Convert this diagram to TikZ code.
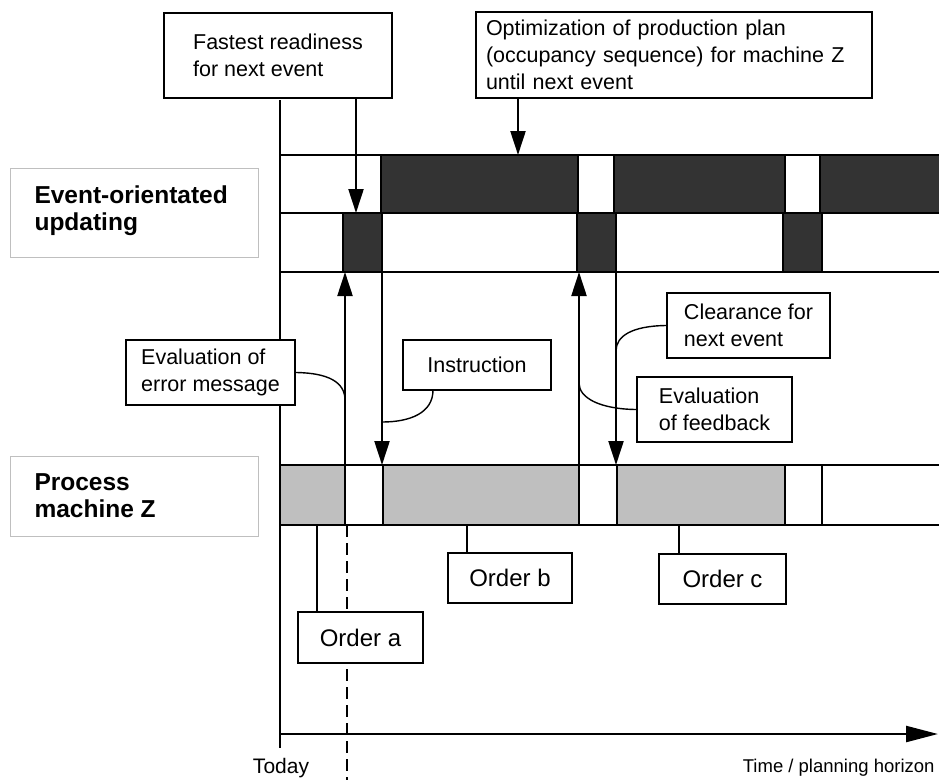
\documentclass[tikz,border=0pt]{standalone}
\usepackage{fontspec}
\setmainfont{Liberation Sans}
\usetikzlibrary{arrows.meta}
\begin{document}
\begin{tikzpicture}[x=1pt,y=-1pt,
  rowline/.style={line width=2.6pt},
  divline/.style={line width=2.4pt},
  box/.style={draw, line width=2.2pt, fill=white, inner sep=0pt, align=left,
    font=\fontsize{21.5}{27}\selectfont},
  topbox/.style={box, inner xsep=10pt},
  orderbox/.style={box, align=center, font=\fontsize{24}{28}\selectfont},
  rowlabel/.style={anchor=west, align=left, font=\bfseries\fontsize{24.5}{27}\selectfont},
  labelframe/.style={draw=black!25, line width=0.6pt},
  lead/.style={line width=1.4pt},
  sig/.style={line width=2.2pt, -{Triangle[length=24pt,width=15pt]}},
  darkbar/.style={fill=black!80},
  lightbar/.style={fill=black!25},
  axislabel/.style={font=\fontsize{21}{24}\selectfont}
]
\useasboundingbox (0,0) rectangle (939,780);

% ---- row labels ----
\draw[labelframe] (10,168) rectangle (258,257);
\draw[labelframe] (10,456) rectangle (258,536);
\node[rowlabel] (evlabel) at (31,211) {Event-orientated\\updating};
\node[rowlabel] (prlabel) at (31,496) {Process\\machine Z};

% ---- event-orientated updating: optimisation row and readiness row ----
\fill[darkbar] (381,155) rectangle (578,213);
\fill[darkbar] (614,155) rectangle (785,213);
\fill[darkbar] (820,155) rectangle (939,213);
\fill[darkbar] (343,213) rectangle (382,272);
\fill[darkbar] (577,213) rectangle (616,272);
\fill[darkbar] (783,213) rectangle (822,272);

% ---- process machine Z row ----
\fill[lightbar] (280,465) rectangle (345,525);
\fill[lightbar] (383,465) rectangle (579,525);
\fill[lightbar] (617,465) rectangle (785,525);

\foreach \y in {155,213,272,465,525}
  \draw[rowline] (280,\y) -- (939,\y);
\foreach \x in {381,578,614,785,820}
  \draw[divline] (\x,155) -- (\x,213);
\foreach \x in {343,382,577,616,783,822}
  \draw[divline] (\x,213) -- (\x,272);
\foreach \x in {345,383,579,617,785,822}
  \draw[divline] (\x,465) -- (\x,525);

% ---- time axis ----
\coordinate (axtop) at (280,100);
\coordinate (axbot) at (280,748);
\coordinate (tstart) at (280,734);
\coordinate (tend) at (938,734);
\draw[rowline] (axtop) -- (axbot);
\draw[line width=2.4pt, -{Triangle[length=32pt,width=16pt]}] (tstart) -- (tend);
\node[axislabel] (today) at (281,768) {Today};
\node[axislabel, anchor=east, font=\fontsize{18.5}{22}\selectfont] (horizon) at (938,768)
  {Time / planning horizon};

% present moment
\coordinate (nowtop) at (347,525);
\coordinate (nowbot) at (347,780);
\draw[line width=2pt, dash pattern=on 12pt off 6pt] (nowtop) -- (nowbot);

% ---- signal arrows ----
\coordinate (e1up) at (345,465);   \coordinate (e1top) at (345,272);
\coordinate (i1top) at (382,272);  \coordinate (i1bot) at (382,465);
\coordinate (f2up) at (579,465);   \coordinate (f2top) at (579,272);
\coordinate (c2top) at (616,272);  \coordinate (c2bot) at (616,465);
\draw[sig] (e1up) -- (e1top);
\draw[sig] (i1top) -- (i1bot);
\draw[sig] (f2up) -- (f2top);
\draw[sig] (c2top) -- (c2bot);

% ---- top callouts ----
\node[box, minimum width=228pt, minimum height=85pt] (fast) at (278,55.5)
  {Fastest readiness\\for next event};
\node[topbox, text width=376pt, minimum height=86pt] (opt) at (674,55)
  {Optimization of production plan\\(occupancy sequence) for machine Z\\until next event};
\coordinate (fastfoot) at (356,98);
\coordinate (fasttip) at (356,213);
\coordinate (optfoot) at (518,98);
\coordinate (opttip) at (518,155);
\draw[sig] (fastfoot) -- (fasttip);
\draw[sig] (optfoot) -- (opttip);

% ---- side callouts ----
\node[box, minimum width=169pt, minimum height=65pt] (everr) at (210.5,372.5)
  {Evaluation of\\error message};
\node[box, minimum width=148pt, minimum height=50pt] (instr) at (477,365)
  {Instruction};
\node[box, minimum width=163pt, minimum height=65pt] (clear) at (748.5,325.5)
  {Clearance for\\next event};
\node[box, minimum width=155pt, minimum height=65pt] (evfb) at (714.5,409.5)
  {Evaluation\\of feedback};

\coordinate (everrjoin) at (345,400);
\coordinate (instrjoin) at (382,422);
\coordinate (clearjoin) at (616,351);
\coordinate (evfbjoin) at (579,383);
\draw[lead] (everr.east) .. controls (328,373) and (345,382) .. (everrjoin);
\draw[lead] (433,390) .. controls (433,413) and (410,422) .. (instrjoin);
\draw[lead] (clear.west) .. controls (632,326) and (616,336) .. (clearjoin);
\draw[lead] (evfb.west) .. controls (600,409) and (579,398) .. (evfbjoin);

% ---- orders ----
\node[orderbox, minimum width=125pt, minimum height=51pt] (ordera) at (360.5,637.5) {Order a};
\node[orderbox, minimum width=124pt, minimum height=50pt] (orderb) at (510,578) {Order b};
\node[orderbox, minimum width=127pt, minimum height=50pt] (orderc) at (722.5,579) {Order c};
\coordinate (barA) at (317,525);
\coordinate (barB) at (467,525);
\coordinate (barC) at (679,525);
\draw[lead] (barA) -- (barA |- ordera.north);
\draw[lead] (barB) -- (barB |- orderb.north);
\draw[lead] (barC) -- (barC |- orderc.north);
\end{tikzpicture}
\end{document}
